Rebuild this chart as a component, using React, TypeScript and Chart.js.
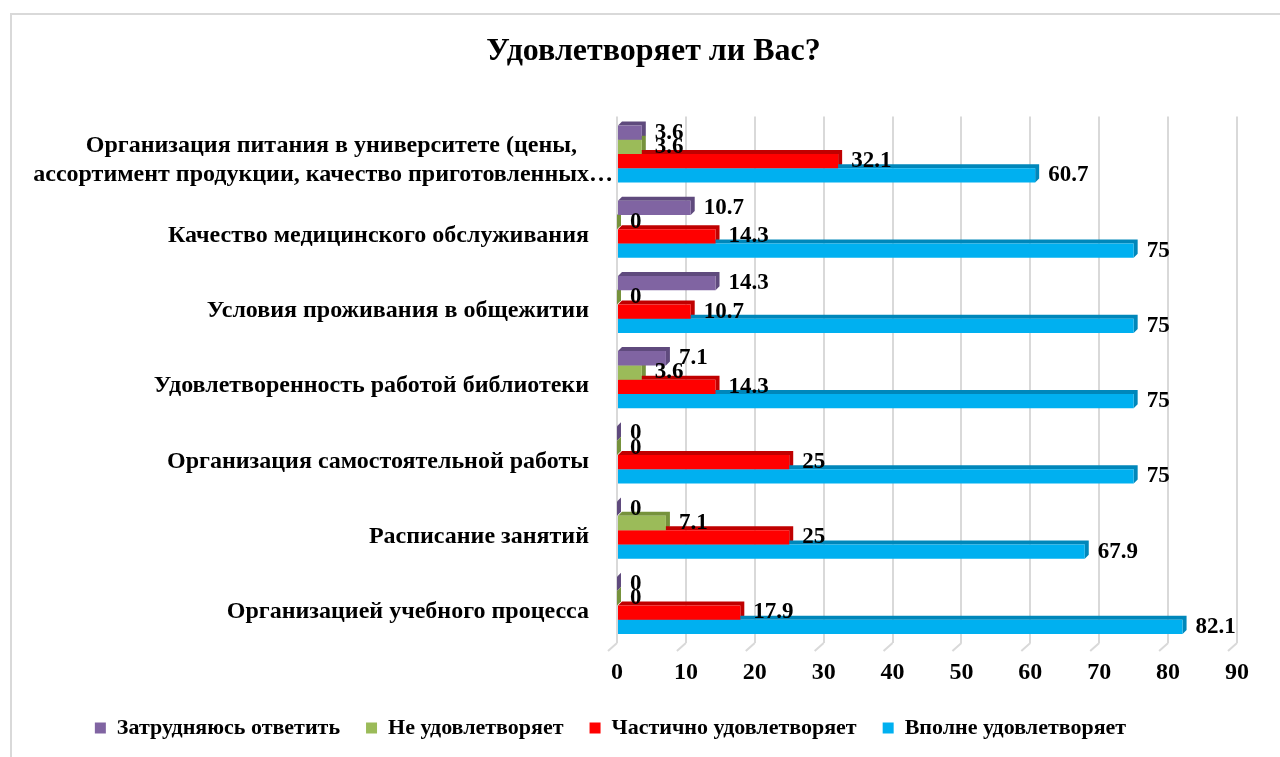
import React, { useEffect, useRef } from "react";
import { Chart, registerables } from "chart.js";

Chart.register(...registerables);

const titleText = "Удовлетворяет ли Вас?";

const categories: (string | string[])[] = [
  ["Организация питания в университете (цены,", "ассортимент продукции, качество приготовленных…"],
  "Качество медицинского обслуживания",
  "Условия проживания в общежитии",
  "Удовлетворенность работой библиотеки",
  "Организация самостоятельной работы",
  "Расписание занятий",
  "Организацией учебного процесса",
];

const seriesNames = [
  "Затрудняюсь ответить",
  "Не удовлетворяет",
  "Частично удовлетворяет",
  "Вполне удовлетворяет",
];

const hardToSay = [3.6, 10.7, 14.3, 7.1, 0, 0, 0];
const notSatisfied = [3.6, 0, 0, 3.6, 0, 7.1, 0];
const partlySatisfied = [32.1, 14.3, 10.7, 14.3, 25, 25, 17.9];
const fullySatisfied = [60.7, 75, 75, 75, 75, 67.9, 82.1];

const frontColors = ["#8064A2", "#9BBB59", "#FF0000", "#00B0F0"];
const sideColors = ["#5F4A7D", "#76923C", "#C00000", "#0087BA"];

const xMin = 0;
const xMax = 90;
const xStep = 10;

const FONT = "'Liberation Serif', 'Times New Roman', serif";

const framePlugin = {
  id: "frame",
  beforeDraw(chart: any) {
    const ctx = chart.ctx;
    ctx.save();
    ctx.fillStyle = "#ffffff";
    ctx.fillRect(0, 0, chart.width, chart.height);
    ctx.strokeStyle = "#d9d9d9";
    ctx.lineWidth = 2;
    ctx.strokeRect(11, 14, chart.width + 40, chart.height + 40);
    ctx.restore();
  },
};

const shiftPlugin = {
  id: "shiftBoxes",
  afterLayout(chart: any) {
    if (chart.titleBlock) {
      chart.titleBlock.left += 31;
      chart.titleBlock.right += 31;
    }
    if (chart.legend) {
      chart.legend.left -= 12;
      chart.legend.right -= 12;
    }
  },
};

// 3D-style top and side faces drawn behind each bar's front face
const depthPlugin = {
  id: "barDepth",
  beforeDatasetsDraw(chart: any) {
    const ctx = chart.ctx;
    const d = 4;
    ctx.save();
    chart.data.datasets.forEach((ds: any, i: number) => {
      const meta = chart.getDatasetMeta(i);
      if (meta.hidden) return;
      meta.data.forEach((bar: any) => {
        const p = bar.getProps(["x", "y", "base", "height"], true);
        const top = p.y - p.height / 2;
        const bottom = p.y + p.height / 2;
        const left = p.base;
        const right = p.x;
        ctx.fillStyle = sideColors[i];
        ctx.beginPath();
        ctx.moveTo(left, top);
        ctx.lineTo(left + d, top - d);
        ctx.lineTo(right + d, top - d);
        ctx.lineTo(right + d, bottom - d);
        ctx.lineTo(right, bottom);
        ctx.lineTo(right, top);
        ctx.closePath();
        ctx.fill();
      });
    });
    ctx.restore();
  },
};

// floor edge of the 3D back wall: short diagonal at the foot of each gridline
const floorPlugin = {
  id: "floorEdges",
  beforeDatasetsDraw(chart: any) {
    const ctx = chart.ctx;
    const xs = chart.scales.x;
    const bottom = chart.chartArea.bottom;
    ctx.save();
    ctx.strokeStyle = "#d9d9d9";
    ctx.lineWidth = 2;
    xs.ticks.forEach((t: any) => {
      const px = xs.getPixelForValue(t.value);
      ctx.beginPath();
      ctx.moveTo(px, bottom);
      ctx.lineTo(px - 9, bottom + 8);
      ctx.stroke();
    });
    ctx.restore();
  },
};

const valueLabelPlugin = {
  id: "valueLabels",
  afterDatasetsDraw(chart: any) {
    const ctx = chart.ctx;
    ctx.save();
    ctx.font = `bold 23px ${FONT}`;
    ctx.fillStyle = "#000000";
    ctx.textAlign = "left";
    ctx.textBaseline = "middle";
    chart.data.datasets.forEach((ds: any, i: number) => {
      const meta = chart.getDatasetMeta(i);
      meta.data.forEach((bar: any, j: number) => {
        const v = ds.data[j];
        ctx.fillText(String(v), bar.x + 13, bar.y);
      });
    });
    ctx.restore();
  },
};

const pad = (n: number) => " ".repeat(n);

export default function App() {
  const canvasRef = useRef<HTMLCanvasElement | null>(null);

  useEffect(() => {
    const canvas = canvasRef.current;
    if (!canvas) return;
    Chart.defaults.font.family = FONT;
    Chart.defaults.color = "#000000";

    const seriesValues = [hardToSay, notSatisfied, partlySatisfied, fullySatisfied];

    const chart = new Chart(canvas, {
      type: "bar",
      data: {
        labels: categories,
        datasets: seriesNames.map((name, i) => ({
          label: name,
          data: seriesValues[i],
          backgroundColor: frontColors[i],
          borderWidth: 0,
          categoryPercentage: 0.76,
          barPercentage: 1.0,
        })),
      },
      options: {
        indexAxis: "y",
        responsive: false,
        animation: false,
        devicePixelRatio: 1,
        layout: { padding: { top: 0, left: 8, right: 43, bottom: 8 } },
        plugins: {
          title: {
            display: true,
            text: titleText,
            color: "#000000",
            font: { family: FONT, size: 32, weight: "bold" },
            padding: { top: 33, bottom: 45 },
          },
          legend: {
            display: true,
            position: "bottom",
            labels: {
              color: "#000000",
              font: { family: FONT, size: 22, weight: "bold" },
              boxWidth: 11,
              boxHeight: 11,
              padding: 26,
            },
          },
          tooltip: { enabled: false },
        },
        scales: {
          x: {
            type: "linear",
            position: "bottom",
            min: xMin,
            max: xMax,
            ticks: {
              stepSize: xStep,
              padding: 15,
              color: "#000000",
              font: { family: FONT, size: 24, weight: "bold" },
            },
            grid: {
              color: "#d9d9d9",
              lineWidth: 2,
              drawTicks: false,
              tickLength: 0,
            },
            border: { display: false },
            afterFit: (scale: any) => {
              scale.height = 48;
            },
          },
          y: {
            type: "category",
            position: "left",
            ticks: {
              padding: 4,
              labelOffset: 6.5,
              color: "#000000",
              font: { family: FONT, size: 24, weight: "bold" },
              callback: function (this: any, value: any) {
                const lbl = this.getLabelForValue(value);
                if (Array.isArray(lbl)) {
                  return [lbl[0] + pad(6), lbl[1]];
                }
                return lbl + pad(4);
              },
            },
            grid: { display: false, drawTicks: false, tickLength: 0 },
            border: { display: false },
            afterFit: (scale: any) => {
              scale.width = 609;
            },
          },
        },
      },
      plugins: [framePlugin, shiftPlugin, floorPlugin, depthPlugin, valueLabelPlugin],
    } as any);

    return () => {
      chart.destroy();
    };
  }, []);

  return (
    <div
      style={{
        position: "fixed",
        left: 0,
        top: 0,
        width: 1280,
        height: 757,
        background: "#ffffff",
      }}
    >
      <canvas
        ref={canvasRef}
        width={1280}
        height={757}
        style={{ width: 1280, height: 757, display: "block" }}
      />
    </div>
  );
}
